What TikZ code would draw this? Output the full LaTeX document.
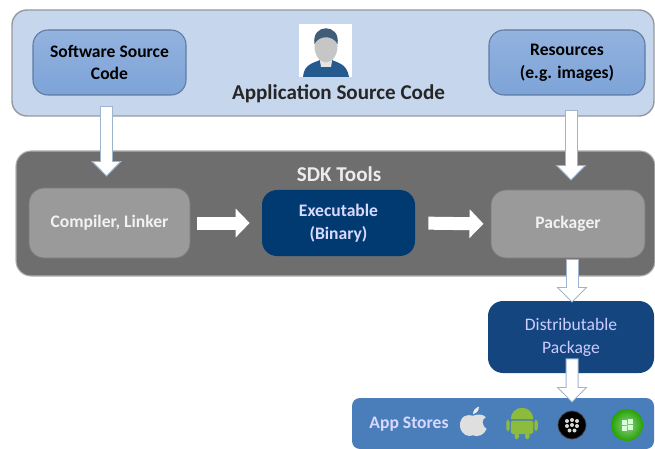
\documentclass[tikz,border=0pt]{standalone}
\usepackage{fontspec}
\setmainfont{Carlito}
\usetikzlibrary{arrows.meta,calc}
\definecolor{panelblue}{HTML}{C6D6EC}
\definecolor{boxblue}{HTML}{7DA3D8}
\definecolor{navy}{HTML}{003A70}
\definecolor{distblue}{HTML}{14457F}
\definecolor{storeblue}{HTML}{4A7EBB}
\definecolor{sdkgray}{HTML}{6E6E6E}
\definecolor{toolgray}{HTML}{9A9A9A}
\definecolor{edgeblue}{HTML}{9FB4CF}
\definecolor{droidgreen}{HTML}{8DBB3C}
\tikzset{
  panel/.style={rounded corners=0.3cm,inner sep=0pt,align=center},
  srcbox/.style={panel,top color=boxblue!70!panelblue,bottom color=boxblue,draw=boxblue!75!black,line width=0.6pt},
  toolbox/.style={panel,fill=toolgray,text=white!90!gray,draw=toolgray!80!black,line width=0.5pt},
  darkbox/.style={panel,fill=navy,text=white!85!blue},
  edgearrow/.style={line width=0.26cm,draw=edgeblue,-{Triangle[length=0.31cm,width=0.6cm]}},
  fillarrow/.style={line width=0.22cm,draw=white,-{Triangle[length=0.26cm,width=0.5cm]}},
}
\begin{document}
\begin{tikzpicture}[]
     \useasboundingbox (0,0) rectangle (13.1,-8.98);

     \newcommand\sdkblock[7]{%{name}{x}{y}{w}{h}{texte}{style}
     \node[#7,minimum width=#4cm,minimum height=#5cm] (#1) at (#2,#3) {#6};
     }
     \newcommand\plainarrow[4]{%{from}{to}{shorten start}{shorten end}
     \draw[edgearrow,shorten <=#3cm,shorten >=#4cm] (#1) -- (#2);
     \draw[fillarrow,shorten <=#3cm+0.02cm,shorten >=#4cm+0.03cm] (#1) -- (#2);
     }

     \sdkblock{appsrc}{6.66}{-1.26}{12.84}{2.12}{}{panel,fill=panelblue,draw=gray!70!panelblue,line width=0.8pt};
     \sdkblock{softsrc}{2.19}{-1.25}{3.06}{1.3}{\bfseries Software Source\\[1pt]\bfseries Code}{srcbox};
     \sdkblock{resources}{11.34}{-1.25}{3.12}{1.3}{\bfseries Resources\\[1pt]\bfseries (e.g. images)}{srcbox};
     \sdkblock{person}{6.51}{-1.01}{1.06}{1.06}{}{fill=white,inner sep=0pt};
     \node[font=\fontsize{12}{14}\selectfont\bfseries,text=black!85] (appsrclabel) at (6.77,-1.88) {Application Source Code};

     % person
     \fill[navy!70!boxblue] (6.06,-1.54) .. controls (6.08,-1.26) and (6.3,-1.26) .. (6.44,-1.18) -- (6.6,-1.18) .. controls (6.74,-1.26) and (6.94,-1.26) .. (6.98,-1.54) -- cycle;
     \fill[gray!20] (6.38,-1.1) -- (6.66,-1.1) -- (6.62,-1.34) -- (6.42,-1.34) -- cycle;
     \fill[gray!45] (6.52,-0.92) ellipse (0.23 and 0.33);
     \fill[navy!50!gray] (6.29,-0.88) .. controls (6.22,-0.46) and (6.82,-0.46) .. (6.75,-0.88) .. controls (6.66,-0.7) and (6.38,-0.7) .. (6.29,-0.88) -- cycle;

     \sdkblock{sdk}{6.71}{-4.27}{12.78}{2.5}{}{panel,fill=sdkgray,draw=gray!60,line width=0.6pt};
     \node[font=\large\bfseries,text=white!85!gray] (sdklabel) at (6.78,-3.48) {SDK Tools};
     \sdkblock{compiler}{2.19}{-4.46}{3.22}{1.4}{\bfseries Compiler, Linker}{toolbox};
     \sdkblock{executable}{6.77}{-4.46}{3.06}{1.32}{\bfseries Executable\\[1pt]\bfseries (Binary)}{darkbox};
     \sdkblock{packager}{11.36}{-4.48}{3.08}{1.36}{\bfseries Packager}{toolbox};

     \sdkblock{dist}{11.42}{-6.74}{3.32}{1.44}{Distributable\\[1pt]Package}{panel,fill=distblue,text=white!80!blue};
     \sdkblock{stores}{10.06}{-8.47}{6.04}{1.02}{}{panel,rounded corners=0.16cm,fill=storeblue};
     \node[font=\bfseries,text=white!85!blue] (storeslabel) at (8.18,-8.48) {App Stores};

     % icons
     \begin{scope}[shift={(9.46,-8.44)},xscale=0.85,yscale=0.7,shift={(-9.46,8.4)}]
     \fill[gray!25] (9.46,-8.22) .. controls (9.2,-8.14) and (9.12,-8.4) .. (9.16,-8.56) .. controls (9.2,-8.76) and (9.34,-8.84) .. (9.46,-8.78) .. controls (9.56,-8.84) and (9.72,-8.78) .. (9.78,-8.6) .. controls (9.66,-8.5) and (9.66,-8.32) .. (9.76,-8.26) .. controls (9.68,-8.16) and (9.56,-8.18) .. (9.46,-8.22) -- cycle;
     \fill[gray!15] (9.46,-8.18) .. controls (9.46,-8.06) and (9.52,-8) .. (9.6,-7.96) .. controls (9.6,-8.06) and (9.56,-8.14) .. (9.46,-8.18) -- cycle;
     \end{scope}

     \begin{scope}[shift={(10.44,-8.47)},scale=0.75,shift={(-10.44,8.52)}]
     \fill[droidgreen] (10.14,-8.4) arc (180:0:0.3) -- cycle;
     \fill[droidgreen,rounded corners=1pt] (10.14,-8.44) rectangle (10.74,-8.8);
     \fill[droidgreen,rounded corners=1.5pt] (10.02,-8.42) rectangle (10.11,-8.72);
     \fill[droidgreen,rounded corners=1.5pt] (10.77,-8.42) rectangle (10.86,-8.72);
     \fill[droidgreen,rounded corners=1.5pt] (10.24,-8.76) rectangle (10.36,-8.94);
     \fill[droidgreen,rounded corners=1.5pt] (10.52,-8.76) rectangle (10.64,-8.94);
     \end{scope}

     \node[circle,fill=black,draw=black!70,minimum size=0.56cm,inner sep=0pt] (bbicon) at (11.44,-8.5) {};
     \foreach \dotx/\doty in {-0.1/0.08,0/0.1,0.1/0.08,-0.1/-0.02,0/0,0.1/-0.02,-0.05/-0.11,0.05/-0.11}
        \fill[white!70!gray] (11.44+\dotx,-8.5+\doty) circle (0.04);

     \shade[inner color=white!70!green!80!black,outer color=green!70!black!70!olive] (12.54,-8.5) circle (0.32);
     \fill[white!85!green] (12.44,-8.4) rectangle (12.53,-8.49);
     \fill[white!85!green] (12.56,-8.38) rectangle (12.65,-8.47);
     \fill[white!85!green] (12.44,-8.52) rectangle (12.53,-8.61);
     \fill[white!85!green] (12.56,-8.5) rectangle (12.65,-8.59);

     % arrows
     \plainarrow{$(softsrc.south)+(-0.06,0)$}{$(compiler.north)+(-0.06,0)$}{0.2}{0.22};
     \plainarrow{$(resources.south)+(0.08,0)$}{$(packager.north)+(0.06,0)$}{0.28}{0.18};
     \draw[fillarrow,line width=0.26cm,-{Triangle[length=0.28cm,width=0.56cm]},shorten <=0.14cm,shorten >=0.24cm] (compiler.east) -- (executable.west);
     \draw[fillarrow,line width=0.26cm,-{Triangle[length=0.28cm,width=0.56cm]},shorten <=0.26cm,shorten >=0.14cm] (executable.east) -- (packager.west);
     \plainarrow{$(packager.south)+(0.08,0)$}{$(dist.north)+(0.02,0)$}{0.02}{-0.04};
     \plainarrow{$(dist.south)+(0.02,0)$}{bbicon.north}{-0.3}{0.16};
\end{tikzpicture}
\end{document}
